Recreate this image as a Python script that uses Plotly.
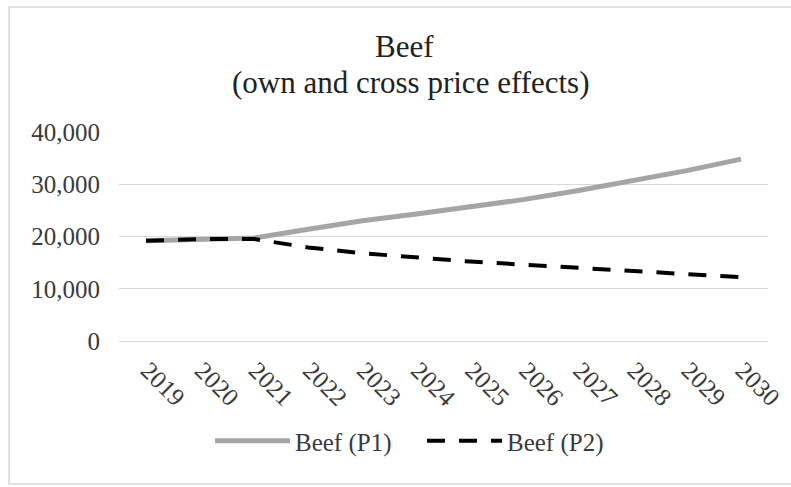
import plotly.graph_objects as go

# Projected beef values under the two price scenarios
years = [str(y) for y in range(2019, 2031)]
beef_p1 = [19200, 19500, 19700, 21400, 23000, 24300, 25600, 27100, 28800, 30600, 32600, 34800]
beef_p2 = [19200, 19500, 19500, 17900, 16800, 16000, 15200, 14600, 14000, 13500, 12900, 12200]
y_ticks = [0, 10000, 20000, 30000, 40000]

SERIF = "Liberation Serif, Times New Roman, serif"
TEXT = "#3a3a3a"

fig = go.Figure()
fig.add_trace(go.Scatter(
    x=years, y=beef_p1, name="Beef (P1)", mode="lines",
    line=dict(color="#A5A5A5", width=5),
))
fig.add_trace(go.Scatter(
    x=years, y=beef_p2, name="Beef (P2)", mode="lines",
    line=dict(color="#000000", width=4, dash="18px,14px"),
))

W, H = 791, 487
L, R, T, B = 119, 23, 132, 146
pw, ph = W - L - R, H - T - B


def px_x(x):
    return (x - L) / pw


def px_y(y):
    return (H - B - y) / ph


fig.update_layout(
    width=W, height=H,
    margin=dict(l=L, r=R, t=T, b=B, autoexpand=False),
    paper_bgcolor="white", plot_bgcolor="white",
    font=dict(family=SERIF, size=25, color=TEXT),
    showlegend=True,
    legend=dict(
        orientation="h", x=px_x(422), xanchor="center",
        y=px_y(441), yanchor="middle",
        font=dict(family=SERIF, size=25, color=TEXT),
        itemwidth=75, entrywidth=122, entrywidthmode="pixels",
        bgcolor="rgba(0,0,0,0)",
    ),
    xaxis=dict(
        type="category", range=[-0.5, len(years) - 0.5],
        showgrid=False, showline=True, linecolor="#D9D9D9", linewidth=1,
        ticks="", tickangle=45, ticklabelshift=2, ticklabelstandoff=4,
        tickfont=dict(family=SERIF, size=25, color=TEXT),
    ),
    yaxis=dict(
        range=[0, 40000], tickvals=y_ticks, tickformat=",",
        showgrid=True, gridcolor="#D9D9D9", gridwidth=1,
        zeroline=False, showline=False, ticks="", ticklabelstandoff=18,
        tickfont=dict(family=SERIF, size=25, color=TEXT),
    ),
    annotations=[
        dict(text="Beef", x=px_x(404), y=px_y(46), xref="paper", yref="paper",
             showarrow=False, font=dict(family=SERIF, size=31, color="#222222"),
             xanchor="center", yanchor="middle"),
        dict(text="(own and cross price effects)", x=px_x(411), y=px_y(82),
             xref="paper", yref="paper", showarrow=False,
             font=dict(family=SERIF, size=31, color="#222222"),
             xanchor="center", yanchor="middle"),
    ],
    shapes=[
        dict(type="rect", xref="paper", yref="paper",
             x0=px_x(9), x1=px_x(800), y0=px_y(484), y1=px_y(7),
             line=dict(color="#D9D9D9", width=1.5), layer="below"),
    ],
)

fig.write_html("out.html")
